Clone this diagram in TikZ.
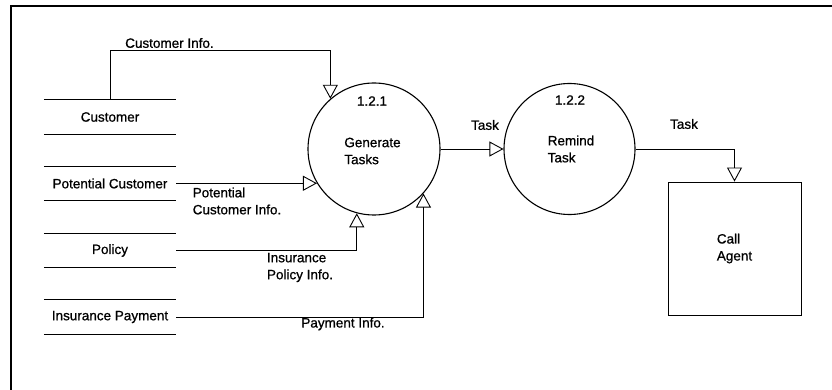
\documentclass[tikz,border=0pt]{standalone}
\usepackage{fontspec}
\setmainfont{Liberation Sans}[BoldFont={Liberation Sans},BoldFeatures={FakeBold=0.8}]
\usetikzlibrary{arrows.meta,calc}
\begin{document}
\begin{tikzpicture}[x=1pt,y=-1pt,
  every node/.style={font=\fontsize{13.5}{17}\selectfont\bfseries, inner sep=0pt},
  proc/.style={draw, circle, line width=1.1pt, minimum size=#1},
  store/.style={minimum width=132pt, minimum height=34pt},
  storeline/.style={line width=1pt},
  flow/.style={line width=0.9pt, -{Triangle[open, length=14pt, width=15pt, line width=0.9pt]}},
  lbl/.style={align=left}
]
\useasboundingbox (0,0) rectangle (832,390);
% frame
\draw[line width=1.8pt] (11,390) -- (11,6) -- (832,6);

% processes
\node[proc=132pt] (c1) at (374,149) {};
\node[proc=131pt] (c2) at (569.5,149) {};
\node (n1) at (372,101) {1.2.1};
\node[lbl] (t1) at (372.5,151) {Generate\\Tasks};
\node (n2) at (570,100) {1.2.2};
\node[lbl] (t2) at (571,149) {Remind\\Task};

% external entity
\node[draw, line width=0.9pt, minimum width=133pt, minimum height=133pt, align=left] (agent) at (734.5,248.5) {Call\\Agent};

% data stores
\node[store] (ds1) at (110,117) {Customer};
\node[store] (ds2) at (110,183.5) {Potential Customer};
\node[store] (ds3) at (110,250.5) {Policy};
\node[store] (ds4) at (110,317) {Insurance Payment};
\foreach \s in {ds1,ds2,ds3,ds4}{
  \draw[storeline] (\s.north west) -- (\s.north east);
  \draw[storeline] (\s.south west) -- (\s.south east);
}

% flows
\draw[flow] (ds1.north) -- ++(0,-49) -| (c1.131.8);
\draw[flow] (c1.211 -| ds2.east) -- (c1.211);
\draw[flow] (ds3.east) -| (c1.255.1);
\draw[flow] (ds4.east) -| (c1.-42.1);
\draw[flow] (c1.east) -- (c2.west);
\draw[flow] (c2.east) -| (agent.north);

% flow labels
\node[anchor=west] (l1) at (125,43) {Customer Info.};
\node[lbl] (l2) at (237,201) {Potential\\Customer Info.};
\node[lbl] (l3) at (300,267.5) {Insurance\\Policy Info.};
\node (l4) at (343,324) {Payment Info.};
\node (l5) at (485,125) {Task};
\node (l6) at (684,124) {Task};
\end{tikzpicture}
\end{document}
